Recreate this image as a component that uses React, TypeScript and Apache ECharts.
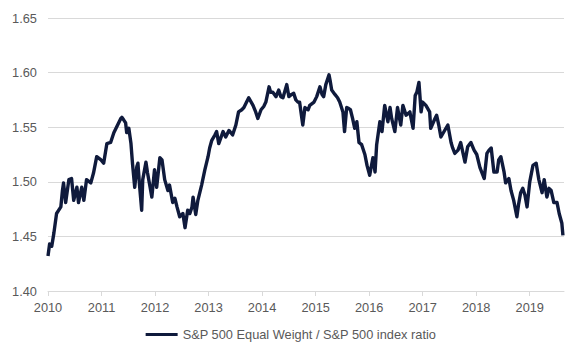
import React, { useEffect, useRef } from "react";
import * as echarts from "echarts";

// Time in decimal years, ratio values
const years: number[] = [
  2010.0, 2010.03, 2010.07, 2010.11, 2010.16, 2010.24, 2010.27, 2010.29, 2010.33, 2010.39,
  2010.44, 2010.48, 2010.54, 2010.57, 2010.63, 2010.67, 2010.72, 2010.8, 2010.85, 2010.91,
  2010.99, 2011.04, 2011.1, 2011.17, 2011.23, 2011.28, 2011.36, 2011.38, 2011.41, 2011.45,
  2011.47, 2011.51, 2011.55, 2011.58, 2011.62, 2011.66, 2011.68, 2011.71, 2011.75, 2011.77,
  2011.83, 2011.86, 2011.9, 2011.94, 2011.99, 2012.03, 2012.09, 2012.13, 2012.18, 2012.24,
  2012.27, 2012.33, 2012.37, 2012.41, 2012.46, 2012.52, 2012.56, 2012.61, 2012.65, 2012.69,
  2012.71, 2012.76, 2012.8, 2012.87, 2012.93, 2012.99, 2013.02, 2013.06, 2013.12, 2013.15,
  2013.19, 2013.27, 2013.32, 2013.38, 2013.45, 2013.51, 2013.56, 2013.62, 2013.66, 2013.71,
  2013.75, 2013.83, 2013.88, 2013.92, 2013.98, 2014.03, 2014.07, 2014.13, 2014.16, 2014.2,
  2014.26, 2014.31, 2014.35, 2014.39, 2014.46, 2014.5, 2014.55, 2014.59, 2014.63, 2014.67,
  2014.7, 2014.76, 2014.8, 2014.86, 2014.89, 2014.97, 2015.02, 2015.08, 2015.12, 2015.15,
  2015.19, 2015.25, 2015.27, 2015.3, 2015.36, 2015.41, 2015.45, 2015.51, 2015.54, 2015.58,
  2015.62, 2015.65, 2015.69, 2015.73, 2015.77, 2015.81, 2015.86, 2015.92, 2015.96, 2016.01,
  2016.07, 2016.11, 2016.14, 2016.2, 2016.24, 2016.29, 2016.35, 2016.39, 2016.42, 2016.48,
  2016.53, 2016.59, 2016.63, 2016.69, 2016.76, 2016.82, 2016.86, 2016.89, 2016.93, 2016.97,
  2017.0, 2017.06, 2017.13, 2017.15, 2017.23, 2017.26, 2017.3, 2017.34, 2017.41, 2017.47,
  2017.53, 2017.56, 2017.6, 2017.66, 2017.71, 2017.75, 2017.79, 2017.84, 2017.9, 2017.96,
  2018.01, 2018.07, 2018.15, 2018.2, 2018.24, 2018.28, 2018.33, 2018.39, 2018.42, 2018.46,
  2018.52, 2018.55, 2018.61, 2018.65, 2018.7, 2018.76, 2018.79, 2018.83, 2018.87, 2018.91,
  2018.95, 2019.0, 2019.06, 2019.12, 2019.17, 2019.23, 2019.27, 2019.32, 2019.36, 2019.4,
  2019.45, 2019.51, 2019.55, 2019.6, 2019.62,
];

const ratio: number[] = [
  1.432, 1.443, 1.441, 1.453, 1.471, 1.477, 1.492, 1.499, 1.481, 1.502,
  1.503, 1.483, 1.495, 1.481, 1.495, 1.483, 1.502, 1.499, 1.508, 1.523,
  1.52, 1.517, 1.535, 1.536, 1.545, 1.55, 1.558, 1.559, 1.557, 1.554,
  1.545, 1.549, 1.535, 1.516, 1.495, 1.514, 1.517, 1.497, 1.474, 1.502,
  1.518, 1.508, 1.497, 1.486, 1.511, 1.495, 1.522, 1.52, 1.502, 1.492,
  1.497, 1.481, 1.485, 1.477, 1.468, 1.471, 1.458, 1.474, 1.471, 1.477,
  1.486, 1.47, 1.483, 1.497, 1.511, 1.523, 1.531, 1.538, 1.543, 1.546,
  1.535, 1.546, 1.541, 1.547, 1.543, 1.552, 1.564, 1.566, 1.568, 1.573,
  1.577, 1.57, 1.564, 1.558, 1.566, 1.569, 1.573, 1.587, 1.582, 1.582,
  1.578, 1.584, 1.578, 1.577, 1.589, 1.578, 1.58, 1.581, 1.575, 1.573,
  1.573, 1.552, 1.568, 1.566, 1.57, 1.573, 1.578, 1.587, 1.58, 1.578,
  1.589, 1.598, 1.593, 1.584, 1.58, 1.577, 1.573, 1.564, 1.546, 1.568,
  1.567, 1.566, 1.558, 1.549, 1.555, 1.536, 1.534, 1.525, 1.515, 1.506,
  1.522, 1.509, 1.534, 1.555, 1.546, 1.57, 1.555, 1.568, 1.558, 1.546,
  1.568, 1.552, 1.57, 1.561, 1.564, 1.549, 1.579, 1.582, 1.591, 1.564,
  1.573, 1.57, 1.564, 1.549, 1.558, 1.561, 1.552, 1.541, 1.547, 1.552,
  1.536, 1.531, 1.526, 1.529, 1.536, 1.527, 1.518, 1.532, 1.536, 1.529,
  1.525, 1.513, 1.503, 1.526, 1.529, 1.531, 1.509, 1.509, 1.52, 1.523,
  1.509, 1.499, 1.503, 1.492, 1.483, 1.468, 1.479, 1.49, 1.494, 1.488,
  1.477, 1.5, 1.515, 1.517, 1.502, 1.49, 1.502, 1.486, 1.494, 1.492,
  1.481, 1.481, 1.471, 1.462, 1.451,
];

const yearTicks: number[] = [2010, 2011, 2012, 2013, 2014, 2015, 2016, 2017, 2018, 2019];
const seriesName = "S&P 500 Equal Weight / S&P 500 index ratio";

export default function App() {
  const ref = useRef<HTMLDivElement>(null);
  useEffect(() => {
    if (!ref.current) return;
    const chart = echarts.init(ref.current, undefined, { renderer: "svg" });
    const data = years.map((y, i) => [y, ratio[i]]);
    chart.setOption({
      animation: false,
      textStyle: { fontFamily: "Liberation Sans, Arial, sans-serif" },
      grid: { left: 48, right: 18, top: 18, bottom: 69, containLabel: false },
      xAxis: {
        type: "value",
        min: 2010,
        max: 2019.64,
        interval: 1,
        axisLine: { show: true, lineStyle: { color: "#d9d9d9", width: 1 } },
        axisTick: { show: true, length: 5, lineStyle: { color: "#d9d9d9" }, customValues: yearTicks },
        axisLabel: {
          color: "#595959",
          fontSize: 12.8,
          margin: 10,
          customValues: yearTicks,
          formatter: (v: number) => String(Math.round(v)),
        },
        splitLine: { show: false },
      },
      yAxis: {
        type: "value",
        min: 1.4,
        max: 1.65,
        interval: 0.05,
        axisLine: { show: false },
        axisTick: { show: false },
        axisLabel: {
          color: "#595959",
          fontSize: 12.8,
          margin: 11,
          formatter: (v: number) => v.toFixed(2),
        },
        splitLine: { lineStyle: { color: "#d9d9d9", width: 1 } },
      },
      legend: {
        bottom: 14,
        left: "center",
        itemWidth: 32,
        itemHeight: 12,
        itemGap: 10,
        textStyle: { color: "#595959", fontSize: 12.8 },
        data: [{ name: seriesName, icon: "path://M0,5 L32,5 L32,8 L0,8 Z" }],
      },
      series: [
        {
          name: seriesName,
          type: "line",
          data,
          showSymbol: false,
          symbol: "none",
          lineStyle: { color: "#0f1a3c", width: 3.4, join: "round" },
          itemStyle: { color: "#0f1a3c" },
        },
      ],
    });
    return () => chart.dispose();
  }, []);
  return <div ref={ref} style={{ width: 582, height: 360, margin: -8 }} />;
}
